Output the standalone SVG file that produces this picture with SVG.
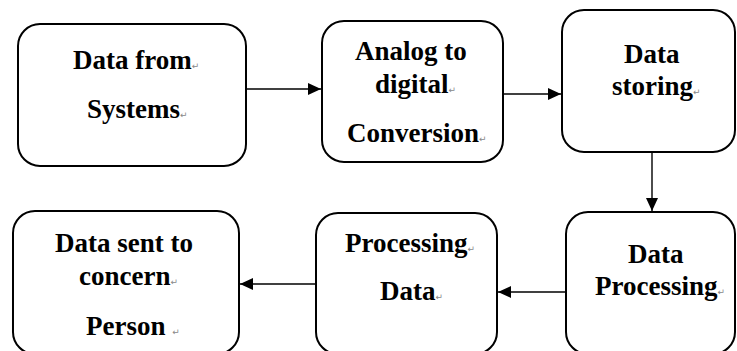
<svg xmlns="http://www.w3.org/2000/svg" width="737" height="351" viewBox="0 0 737 351">
<style>
.box{fill:#fff;stroke:#000;stroke-width:2}
.t{font-family:"Liberation Serif","Times New Roman",serif;font-weight:bold;font-size:27px;fill:#000}
.p{font-family:"DejaVu Sans",sans-serif;font-weight:normal;font-size:9px;fill:#888}
.c{stroke:#000;stroke-width:1.4;fill:none}
</style>
<defs>
<marker id="ah" markerUnits="userSpaceOnUse" markerWidth="14" markerHeight="12" refX="13" refY="6" orient="auto">
<path d="M0,0 L13,6 L0,12 Z" fill="#000"/>
</marker>
</defs>
<rect width="737" height="351" fill="#fff"/>
<g id="connectors">
<line class="c" x1="246" y1="89" x2="321" y2="89" marker-end="url(#ah)"/>
<line class="c" x1="503" y1="94" x2="561" y2="94" marker-end="url(#ah)"/>
<line class="c" x1="652" y1="152" x2="652" y2="211" marker-end="url(#ah)"/>
<line class="c" x1="316" y1="284" x2="240" y2="284" marker-end="url(#ah)"/>
<line class="c" x1="566" y1="292" x2="498" y2="292" marker-end="url(#ah)"/>
</g>
<g id="n1">
<rect class="box" x="18" y="24" width="228" height="142" rx="22"/>
<text class="t" x="73" y="69">Data from<tspan class="p">↵</tspan></text>
<text class="t" x="87" y="118">Systems<tspan class="p">↵</tspan></text>
</g>
<g id="n2">
<rect class="box" x="322" y="21" width="181" height="141" rx="22"/>
<text class="t" x="355" y="60">Analog to</text>
<text class="t" x="375" y="93">digital<tspan class="p">↵</tspan></text>
<text class="t" x="347" y="142">Conversion<tspan class="p">↵</tspan></text>
</g>
<g id="n3">
<rect class="box" x="562" y="10" width="173" height="142" rx="22"/>
<text class="t" x="624" y="63">Data</text>
<text class="t" x="612" y="95">storing<tspan class="p">↵</tspan></text>
</g>
<g id="n6">
<rect class="box" x="566" y="212" width="169" height="142" rx="22"/>
<text class="t" x="628" y="263">Data</text>
<text class="t" x="595" y="295">Processing<tspan class="p">↵</tspan></text>
</g>
<g id="n5">
<rect class="box" x="316" y="213" width="181" height="141" rx="22"/>
<text class="t" x="345" y="252">Processing<tspan class="p">↵</tspan></text>
<text class="t" x="380" y="300">Data<tspan class="p">↵</tspan></text>
</g>
<g id="n4">
<rect class="box" x="13" y="211" width="226" height="143" rx="22"/>
<text class="t" x="55" y="252">Data sent to</text>
<text class="t" x="79" y="285">concern<tspan class="p">↵</tspan></text>
<text class="t" x="86" y="335">Person <tspan class="p">↵</tspan></text>
</g>
</svg>
